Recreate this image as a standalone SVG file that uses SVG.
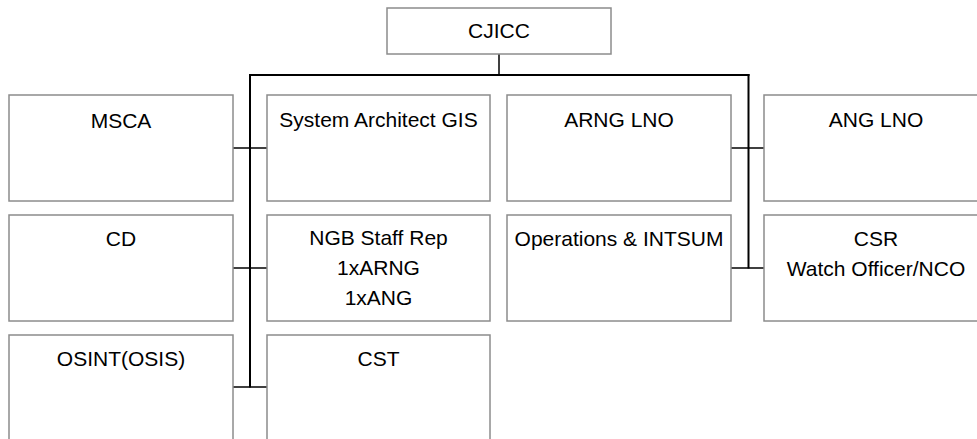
<svg xmlns="http://www.w3.org/2000/svg" width="977" height="439" viewBox="0 0 977 439">
<style>
.box{fill:#ffffff;stroke:#8c8c8c;stroke-width:1.5}
.t{font-family:"Liberation Sans",Arial,sans-serif;font-size:21px;fill:#000000;text-anchor:middle}
.main{stroke:#000000;stroke-width:2;fill:none}
.br{stroke:#000000;stroke-width:1.5;fill:none}
</style>
<rect x="0" y="0" width="977" height="439" fill="#ffffff"/>
<g id="connectors">
<line class="br" x1="499" y1="54" x2="499" y2="75"/>
<line class="main" x1="249" y1="75" x2="749.5" y2="75"/>
<line class="main" x1="250" y1="74" x2="250" y2="387.5"/>
<line class="main" x1="748.5" y1="74" x2="748.5" y2="268.5"/>
<line class="br" x1="233" y1="148" x2="267" y2="148"/>
<line class="br" x1="233" y1="268" x2="267" y2="268"/>
<line class="br" x1="233" y1="387" x2="267" y2="387"/>
<line class="br" x1="731" y1="148" x2="764" y2="148"/>
<line class="br" x1="731" y1="268" x2="764" y2="268"/>
</g>
<g id="cjicc"><rect class="box" x="387" y="8" width="224" height="46"/><text class="t" x="499" y="38">CJICC</text></g>
<g id="msca"><rect class="box" x="9" y="95" width="224" height="106"/><text class="t" x="121" y="127.5">MSCA</text></g>
<g id="sysarch"><rect class="box" x="267" y="95" width="223" height="106"/><text class="t" x="378.5" y="127">System Architect GIS</text></g>
<g id="arnglno"><rect class="box" x="507" y="95" width="224" height="106"/><text class="t" x="619" y="127">ARNG LNO</text></g>
<g id="anglno"><rect class="box" x="764" y="95" width="224" height="106"/><text class="t" x="876" y="127">ANG LNO</text></g>
<g id="cd"><rect class="box" x="9" y="215" width="224" height="106"/><text class="t" x="121" y="246">CD</text></g>
<g id="ngb"><rect class="box" x="267" y="215" width="223" height="106"/><text class="t" x="378.5" y="245">NGB Staff Rep</text><text class="t" x="378.5" y="275">1xARNG</text><text class="t" x="378.5" y="305">1xANG</text></g>
<g id="ops"><rect class="box" x="507" y="215" width="224" height="106"/><text class="t" x="619" y="246">Operations &amp; INTSUM</text></g>
<g id="csr"><rect class="box" x="764" y="215" width="224" height="106"/><text class="t" x="876" y="246">CSR</text><text class="t" x="876" y="275.5">Watch Officer/NCO</text></g>
<g id="osint"><rect class="box" x="9" y="335" width="224" height="120"/><text class="t" x="121" y="366">OSINT(OSIS)</text></g>
<g id="cst"><rect class="box" x="267" y="335" width="223" height="120"/><text class="t" x="378.5" y="366">CST</text></g>
</svg>
